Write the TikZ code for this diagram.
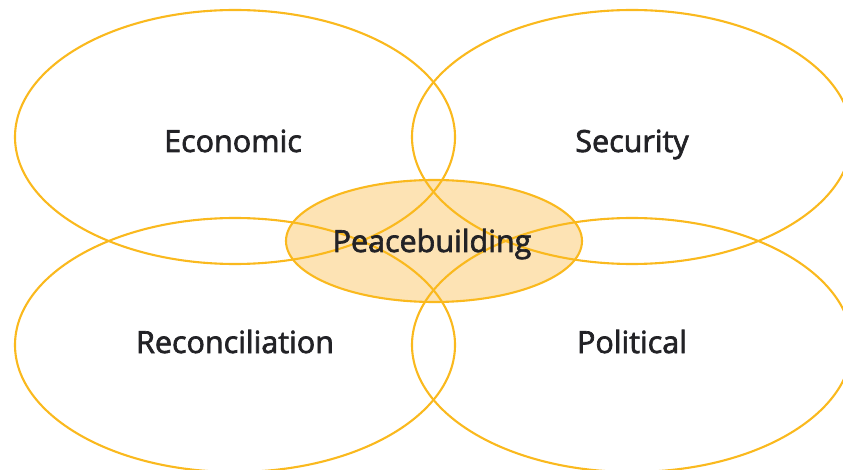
\documentclass[tikz,border=0pt]{standalone}
\usepackage{fontspec}
\setmainfont{Open Sans}[FakeBold=2.2]
\definecolor{ringgold}{RGB}{250,185,30}
\definecolor{corefill}{RGB}{253,227,180}
\definecolor{labelink}{RGB}{34,34,38}
\begin{document}
\begin{tikzpicture}[x=1pt,y=-1pt,
  ring/.style={draw=ringgold,line width=2.1pt},
  lbl/.style={text=labelink,anchor=base,inner sep=0pt,
    font=\fontsize{30.5}{33}\selectfont}]
\useasboundingbox (0,0) rectangle (843,470);
% shaded core first, so every outline shows across it
\fill[corefill] (434,241) ellipse [x radius=148,y radius=61];
\node[lbl] (econ) at (233,152) {Economic};
\node[lbl] (sec) at (632,152) {Security};
\node[lbl] (rec) at (235,353) {Reconciliation};
\node[lbl] (pol) at (632,353) {Political};
\draw[ring] (235,137) ellipse [x radius=220,y radius=127];
\draw[ring] (632,137) ellipse [x radius=220,y radius=127];
\draw[ring] (235,345) ellipse [x radius=220,y radius=127];
\draw[ring] (632,345) ellipse [x radius=220,y radius=127];
\draw[ring] (434,241) ellipse [x radius=148,y radius=61];
\node[lbl] (core) at (432,252) {Peacebuilding};
\end{tikzpicture}
\end{document}
